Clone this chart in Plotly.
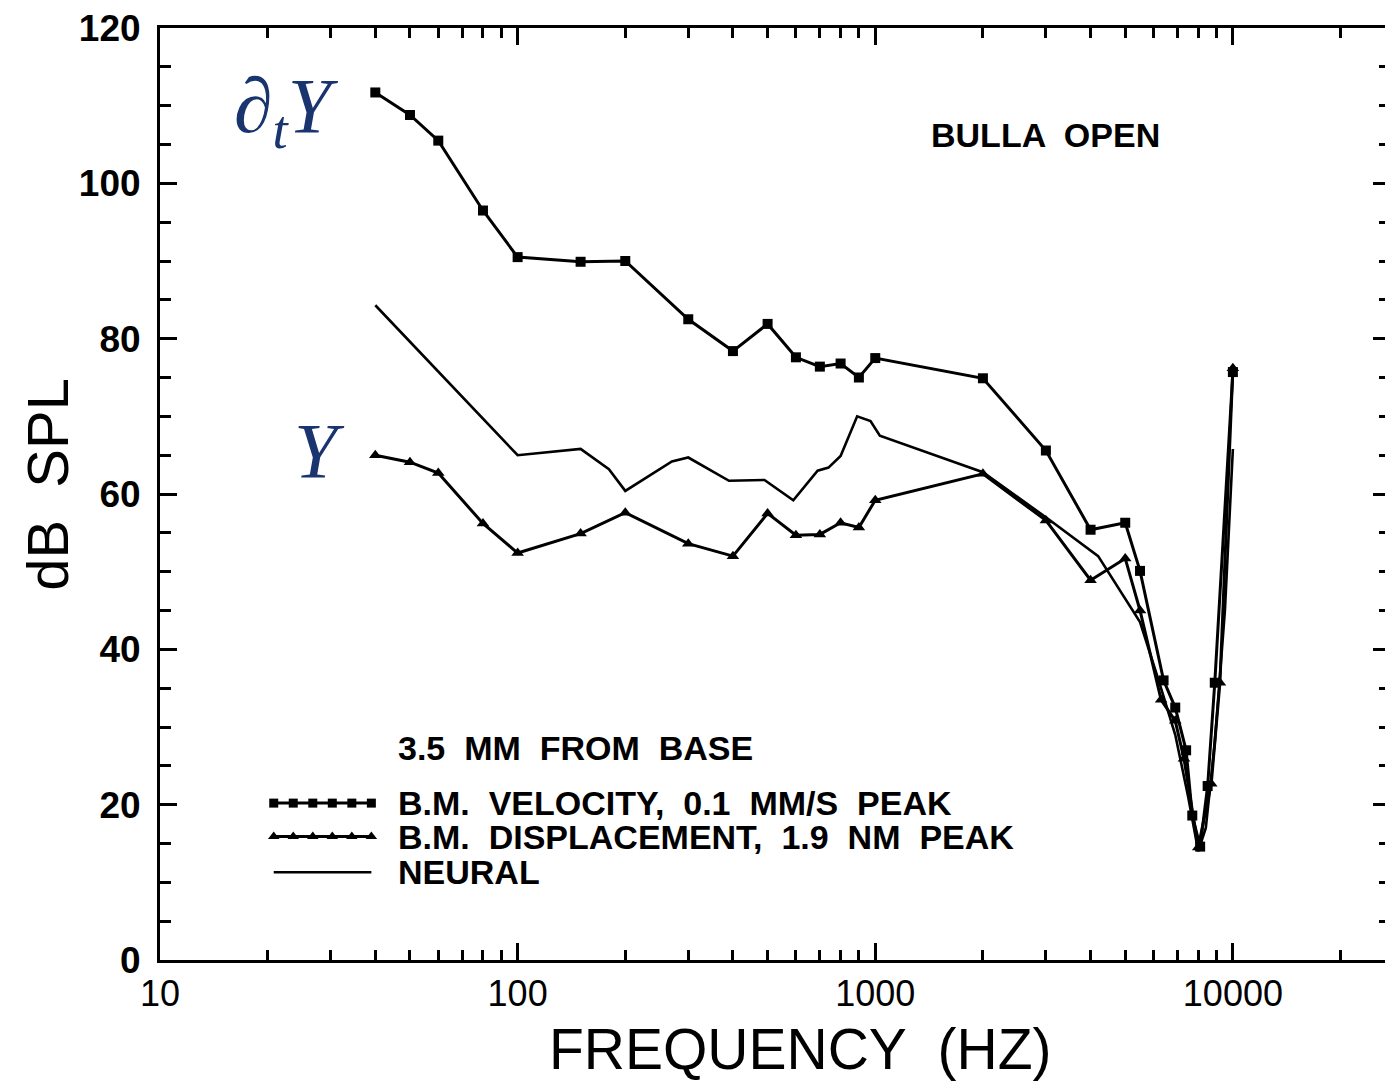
import numpy as np
import plotly.graph_objects as go

# ---------------- data ----------------
vel_freq = [40, 50, 60, 80, 100, 150, 200, 300, 400, 500, 600, 700, 800, 900, 1000,
            2000, 3000, 4000, 5000, 5500, 6400, 6900, 7400, 7700, 8100, 8500, 8900, 10000]
vel_db = [111.7, 108.8, 105.5, 96.5, 90.5, 89.9, 90.0, 82.5, 78.4, 81.9, 77.6, 76.4, 76.8, 75.0, 77.5,
          74.9, 65.6, 55.4, 56.3, 50.1, 36.0, 32.5, 27.0, 18.6, 14.6, 22.4, 35.7, 75.7]

disp_freq = [40, 50, 60, 80, 100, 150, 200, 300, 400, 500, 600, 700, 800, 900, 1000,
             2000, 3000, 4000, 5000, 5500, 6300, 6900, 7300, 8000, 8700, 9200, 10000]
disp_db = [65.0, 64.1, 62.7, 56.2, 52.4, 54.9, 57.6, 53.6, 52.0, 57.5, 54.7, 54.8, 56.3, 55.7, 59.2,
           62.6, 56.6, 48.9, 51.7, 45.0, 33.5, 30.8, 25.9, 14.5, 22.7, 35.7, 76.2]

neu_freq = [40, 100, 150, 180, 200, 270, 300, 390, 490, 590, 690, 740, 800, 890, 970, 1030,
            2000, 3000, 4200, 5500, 6200, 6900, 7500, 8000, 8400, 8900, 9500, 10000]
neu_db = [84.3, 65.0, 65.8, 63.2, 60.4, 64.2, 64.7, 61.7, 61.8, 59.2, 63.0, 63.4, 64.9, 70.0, 69.4, 67.5,
          62.8, 57.0, 52.0, 43.5, 36.0, 29.0, 21.0, 14.0, 17.0, 28.0, 45.0, 65.8]

x_tickvals = [10, 100, 1000, 10000]
x_ticktext = ["10", "100", "1000", "10000"]
y_tickvals = [0, 20, 40, 60, 80, 100, 120]

legend_labels = ["B.M.  VELOCITY,  0.1  MM/S  PEAK",
                 "B.M.  DISPLACEMENT,  1.9  NM  PEAK",
                 "NEURAL"]

# ---------------- figure ----------------
OFF = 8  # page body margin
W, H = 1393 - OFF, 1082 - OFF
L, R, T, B = 160 - OFF, 0, 23 - OFF, 122
x_log_max = 1 + (1393 - 160) / 358.5

fig = go.Figure()

line_w = 3
fig.add_trace(go.Scatter(x=vel_freq, y=vel_db, mode="lines+markers",
                         line=dict(color="black", width=line_w),
                         marker=dict(symbol="square", size=10, color="black"),
                         showlegend=False))
fig.add_trace(go.Scatter(x=disp_freq, y=disp_db, mode="lines+markers",
                         line=dict(color="black", width=line_w),
                         marker=dict(symbol="triangle-up", size=11, color="black"),
                         showlegend=False))
fig.add_trace(go.Scatter(x=neu_freq, y=neu_db, mode="lines",
                         line=dict(color="black", width=2.6),
                         showlegend=False))

# ---- legend key samples (decoration) ----
leg_x = np.logspace(1.318, 1.591, 6)
leg_y = [20.2, 15.9, 11.3]
fig.add_trace(go.Scatter(x=leg_x, y=[leg_y[0]] * 6, mode="lines+markers",
                         line=dict(color="black", width=line_w),
                         marker=dict(symbol="square", size=9, color="black"),
                         showlegend=False, hoverinfo="skip"))
fig.add_trace(go.Scatter(x=leg_x, y=[leg_y[1]] * 6, mode="lines+markers",
                         line=dict(color="black", width=line_w),
                         marker=dict(symbol="triangle-up", size=10, color="black"),
                         showlegend=False, hoverinfo="skip"))
fig.add_trace(go.Scatter(x=[leg_x[0], leg_x[-1]], y=[leg_y[2]] * 2, mode="lines",
                         line=dict(color="black", width=2.6),
                         showlegend=False, hoverinfo="skip"))

label_font = dict(family="Liberation Sans, Arial", size=34, color="black", weight="bold")

annotations = []
for lbl, yv in zip(legend_labels, leg_y):
    annotations.append(dict(x=1.661, y=yv, xref="x", yref="y", text=lbl, showarrow=False,
                            xanchor="left", yanchor="middle", font=label_font))
annotations.append(dict(x=1.661, y=27.3, xref="x", yref="y", text="3.5  MM  FROM  BASE",
                        showarrow=False, xanchor="left", yanchor="middle", font=label_font))
annotations.append(dict(x=3.477, y=106.2, xref="x", yref="y", text="BULLA  OPEN",
                        showarrow=False, xanchor="center", yanchor="middle", font=label_font))

math_font = dict(family="Liberation Serif, DejaVu Serif", size=78, color="#1a3470")
annotations.append(dict(x=1.355, y=109.3, xref="x", yref="y", text="<i>∂<sub>t</sub>Y</i>",
                        showarrow=False, xanchor="center", yanchor="middle", font=math_font))
annotations.append(dict(x=1.445, y=65.6, xref="x", yref="y", text="<i>Y</i>",
                        showarrow=False, xanchor="center", yanchor="middle", font=math_font))

pw = W - L - R
ph = H - T - B
annotations.append(dict(x=(47 - 160) / pw, y=(960 - 482) / ph, xref="paper", yref="paper",
                        text="dB  SPL", textangle=-90, showarrow=False,
                        xanchor="center", yanchor="middle",
                        font=dict(family="Liberation Sans, Arial", size=58, color="black")))
annotations.append(dict(x=(802 - 160) / pw, y=(960 - 1049) / ph, xref="paper", yref="paper",
                        text="FREQUENCY  (HZ)", showarrow=False,
                        xanchor="center", yanchor="middle",
                        font=dict(family="Liberation Sans, Arial", size=57, color="black")))

fig.update_layout(
    width=W, height=H,
    margin=dict(l=L, r=R, t=T, b=B, pad=0),
    paper_bgcolor="white", plot_bgcolor="white",
    annotations=annotations,
    showlegend=False,
)

fig.update_xaxes(
    type="log", range=[1, x_log_max],
    showgrid=False, zeroline=False,
    showline=True, linecolor="black", linewidth=3, mirror="ticks",
    ticks="inside", ticklen=17, tickwidth=2.5, tickcolor="black",
    tickvals=x_tickvals, ticktext=x_ticktext,
    tickfont=dict(family="Liberation Sans, Arial", size=36, color="black"),
    ticklabelstandoff=0, ticklabeloverflow="allow",
    minor=dict(ticks="inside", ticklen=10, tickwidth=2.5, tickcolor="black",
               tickvals=[v * m for v in [10, 100, 1000, 10000] for m in range(2, 10)],
               showgrid=False),
)
fig.update_yaxes(
    range=[0, 120],
    showgrid=False, zeroline=False,
    showline=True, linecolor="black", linewidth=3, mirror="ticks",
    ticks="inside", ticklen=17, tickwidth=2.5, tickcolor="black",
    tickvals=y_tickvals,
    tickfont=dict(family="Liberation Sans, Arial", size=37, color="black", weight="bold"),
    ticklabelstandoff=9, ticklabeloverflow="allow",
    minor=dict(ticks="inside", ticklen=11, tickwidth=2.5, tickcolor="black", dtick=5,
               showgrid=False),
)

fig.write_html("out.html")
